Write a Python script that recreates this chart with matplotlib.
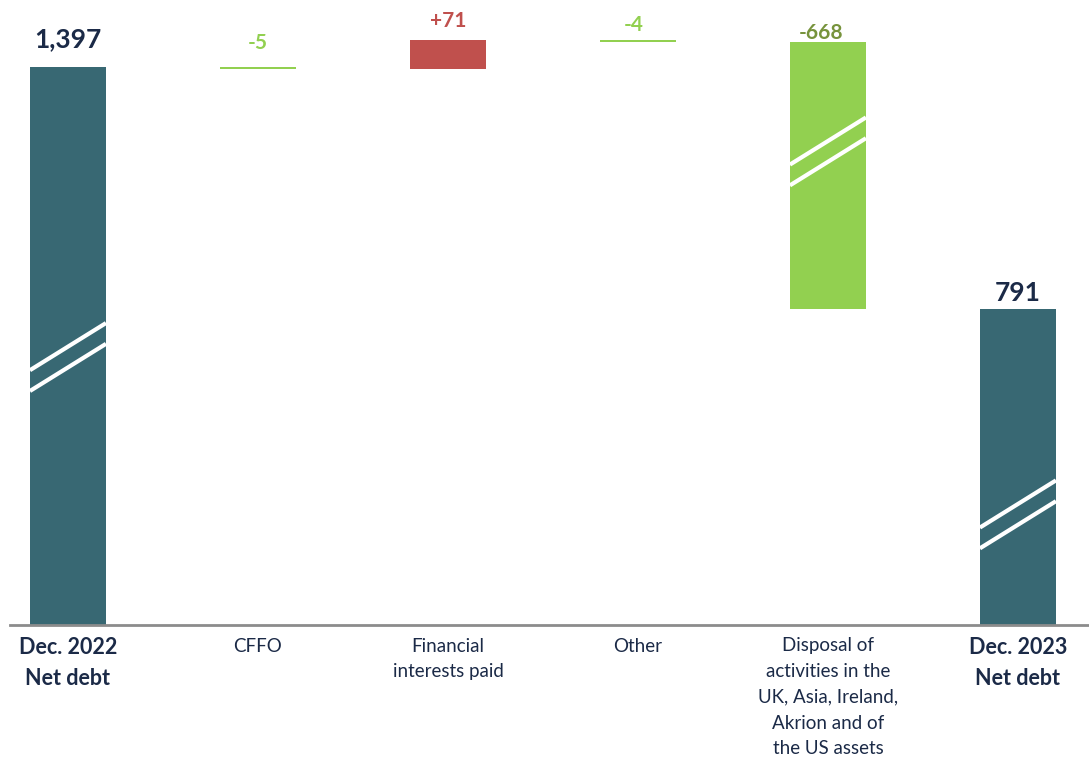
import matplotlib.pyplot as plt
import numpy as np

plt.rcParams['font.family'] = ['Lato', 'DejaVu Sans']

# data
categories = ["Dec. 2022\nNet debt", "CFFO", "Financial\ninterests paid", "Other",
              "Disposal of\nactivities in the\nUK, Asia, Ireland,\nAkrion and of\nthe US assets",
              "Dec. 2023\nNet debt"]
values = [1397, -5, 71, -4, -668, 791]
is_total = [True, False, False, False, False, True]
value_labels = ["1,397", "-5", "+71", "-4", "-668", "791"]

# style
teal = "#386873"
red = "#C0504D"
green = "#92D050"
navy = "#1B2A47"
label_colors = [navy, green, red, green, "#77933C", navy]
label_sizes = [19, 15, 15, 15, 15, 19]
label_gap = [11, 10, 7, 4, -1, 3]   # points above bar top
label_shift = [0, 0, 0, -3, -5, 0]  # points sideways
break_pos = [0.48, 0.59, 0.35]      # fraction of bar height for the break marks

# waterfall geometry
bottoms, heights, colors = [], [], []
running = 0
for v, tot in zip(values, is_total):
    if tot:
        bottoms.append(0)
        heights.append(v)
        colors.append(teal)
        running = v
    else:
        bottoms.append(running if v > 0 else running + v)
        heights.append(abs(v))
        colors.append(red if v > 0 else green)
        running += v

fig = plt.figure(figsize=(10.89, 7.59), dpi=100)
ax = fig.add_axes([10 / 1089, 134 / 759, 1 - 10 / 1089, 1 - 134 / 759])

x = np.arange(len(values))
width = 0.4
ax.bar(x, heights, bottom=bottoms, width=width, color=colors, linewidth=0)

ax.set_xlim(-0.305, 5.374)
ax.set_ylim(0, 1564)

# value labels
for i in range(len(values)):
    top = bottoms[i] + heights[i]
    ax.annotate(value_labels[i], (x[i], top), xytext=(label_shift[i], label_gap[i]),
                textcoords="offset points", ha="center", va="bottom",
                fontsize=label_sizes[i], fontweight="bold", color=label_colors[i])

# axis break marks on the big bars
slope = 118
gap = 52
big = [0, 4, 5]
for b, frac in zip(big, break_pos):
    mid = bottoms[b] + heights[b] * frac
    xs = [x[b] - width / 2, x[b] + width / 2]
    for off in (gap / 2, -gap / 2):
        ax.plot(xs, [mid + off - slope / 2, mid + off + slope / 2],
                color="white", lw=3, solid_capstyle="butt")

# axes styling
for s in ["top", "right", "left"]:
    ax.spines[s].set_visible(False)
ax.spines["bottom"].set_color("#8C8C8C")
ax.spines["bottom"].set_linewidth(2)
ax.set_yticks([])
ax.set_xticks(x)
ax.set_xticklabels(categories, fontsize=13.5, color=navy, linespacing=1.62)
ax.tick_params(axis="x", length=0, pad=9)
for i, lab in enumerate(ax.get_xticklabels()):
    if is_total[i]:
        lab.set_fontweight("bold")
        lab.set_fontsize(15.5)
        lab.set_linespacing(1.55)

plt.savefig("out.png", dpi=100)
